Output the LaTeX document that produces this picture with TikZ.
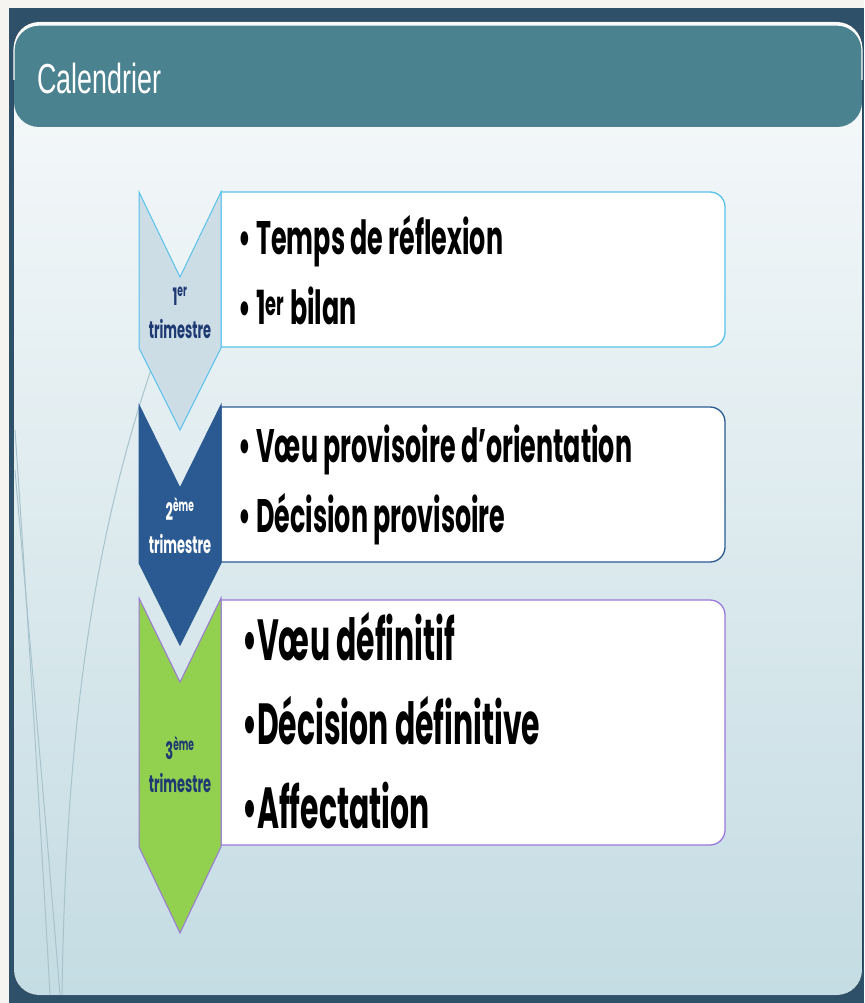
\documentclass[tikz,border=0pt]{standalone}
\usepackage{fontspec}
\setmainfont{Liberation Sans}
\newfontfamily\titlefont[FakeStretch=0.64]{Liberation Sans}
\newfontfamily\gothic[FakeStretch=0.54]{Poppins}
\newfontfamily\grandgothic[FakeStretch=0.515]{Poppins}
\usetikzlibrary{positioning}
\definecolor{marge}{HTML}{F6F4F1}
\definecolor{cadre}{HTML}{2E5169}
\definecolor{bandeau}{HTML}{4A8290}
\definecolor{fondhaut}{HTML}{F8FAFB}
\definecolor{fondbas}{HTML}{C4DCE3}
\definecolor{trait}{HTML}{A9C3CC}
\definecolor{bleuclair}{HTML}{57C2EC}
\definecolor{grisbleu}{HTML}{CDDDE6}
\definecolor{bleufonce}{HTML}{2A5A91}
\definecolor{vert}{HTML}{92D050}
\definecolor{violet}{HTML}{9B78D8}
\definecolor{marine}{HTML}{1F3A73}

\begin{document}
\begin{tikzpicture}[x=1pt,y=-1pt,
  etiquette/.style={inner sep=0pt,align=center,font=\gothic\bfseries\fontsize{24}{33}\selectfont},
  liste/.style={anchor=west,inner sep=0pt,align=left,font=\gothic\bfseries\fontsize{47}{70}\selectfont},
  grande liste/.style={liste,font=\grandgothic\bfseries\fontsize{58}{84}\selectfont}]
\useasboundingbox (0,0) rectangle (864,1003);
% fond et cadre
\fill[marge] (0,0) rectangle (864,1003);
\fill[cadre] (9,8) rectangle (864,1003);
\fill[top color=fondhaut,bottom color=fondbas,rounded corners=25pt] (14,22) rectangle (862,995);
\fill[bandeau,rounded corners=25pt] (14,25) rectangle (862,127);
\draw[white,line width=1.2pt,rounded corners=25pt] (14,80) |- (862,25) -- (862,80);
\node[anchor=west,inner sep=0pt,text=white,font=\titlefont\fontsize{42}{42}\selectfont] (titre) at (37,78) {Calendrier};
% traits decoratifs
\draw[trait,line width=1pt] (165,330) .. controls (95,520) and (66,720) .. (62,995);
\draw[trait,line width=1pt] (15,430) .. controls (30,650) and (42,850) .. (50,995);
\draw[trait,line width=1pt] (15,470) .. controls (35,700) and (50,870) .. (60,995);
% cadres des listes
\foreach \h/\b/\bord in {192/347/bleuclair,407/562/bleufonce,600/845/violet}
  \draw[\bord,fill=white,line width=1.3pt] (221,\h) -- (710,\h) arc (90:0:15pt)
    -- (725,\b-15) arc (0:-90:15pt) -- (221,\b) -- cycle;
% chevrons
\foreach \h/\c/\b/\p/\fond/\bord/\txt/\lab/\n in
  {192/277/348/430/grisbleu/bleuclair/marine/{1\textsuperscript{er}}/1,
   405/488/563/645/bleufonce/bleufonce/white/{2\textsuperscript{ème}}/2,
   598/682/847/933/vert/violet/marine/{3\textsuperscript{ème}}/3}
{
  \draw[fill=\fond,draw=\bord,line width=1pt] (139,\h) -- (180,\c) -- (221,\h)
    -- (221,\b) -- (180,\p) -- (139,\b) -- cycle;
  \node[etiquette,text=\txt] (tri\n) at (180,{(\c+\b)/2}) {\lab\\trimestre};
}
% textes
\node[liste] (l1) at (238,270) {• Temps de réflexion\\• 1\textsuperscript{er} bilan};
\node[liste] (l2) at (238,485) {• Vœu provisoire d’orientation\\• Décision provisoire};
\node[grande liste] (l3) at (242,721) {•Vœu définitif\\•Décision définitive\\•Affectation};
\end{tikzpicture}
\end{document}
